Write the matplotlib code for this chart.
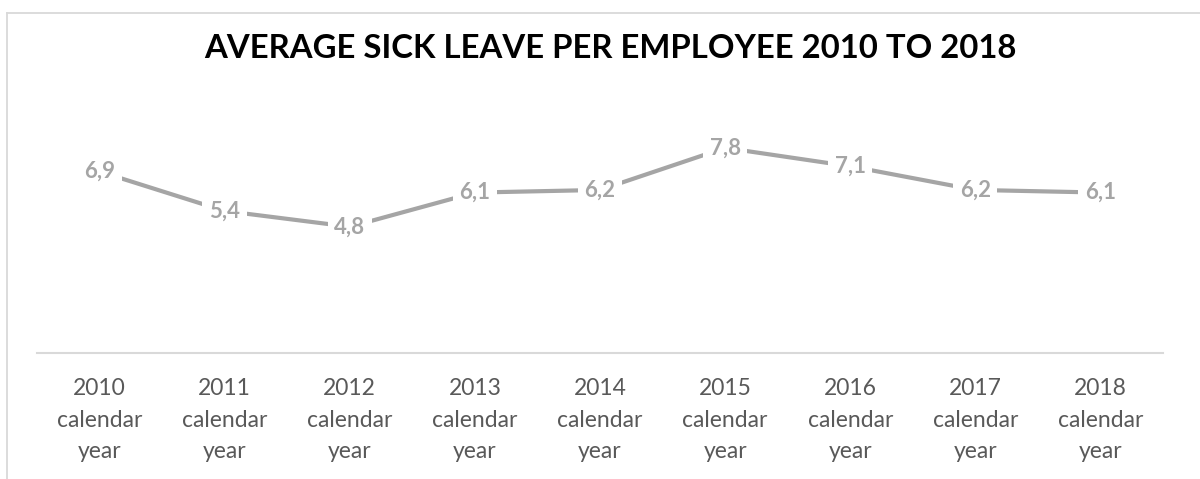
import matplotlib
matplotlib.use("Agg")
import matplotlib.pyplot as plt
from matplotlib.lines import Line2D

plt.rcParams["font.family"] = ["Lato", "DejaVu Sans"]

# ---- data ----
years = ["2010", "2011", "2012", "2013", "2014", "2015", "2016", "2017", "2018"]
sick_days = [6.9, 5.4, 4.8, 6.1, 6.2, 7.8, 7.1, 6.2, 6.1]
value_labels = ["6,9", "5,4", "4,8", "6,1", "6,2", "7,8", "7,1", "6,2", "6,1"]
tick_labels = [f"{y}\ncalendar\nyear" for y in years]

LINE = "#a5a5a5"
TICK = "#595959"
GRID = "#d9d9d9"

fig = plt.figure(figsize=(12, 4.79), dpi=100)
fig.patch.set_facecolor("white")

# chart frame (top + left edges)
fig.add_artist(Line2D([7 / 1200, 1.0], [1 - 13 / 479, 1 - 13 / 479],
                      transform=fig.transFigure, color=GRID, lw=1.3))
fig.add_artist(Line2D([7 / 1200, 7 / 1200], [0.0, 1 - 13 / 479],
                      transform=fig.transFigure, color=GRID, lw=1.3))

ax = fig.add_axes([37 / 1200, 126 / 479, 1126 / 1200, 263 / 479])
x = list(range(len(years)))
ax.plot(x, sick_days, color=LINE, lw=3.0, solid_capstyle="butt", zorder=2)

for xi, v, lab in zip(x, sick_days, value_labels):
    ax.text(xi, v, lab, ha="center", va="center", fontsize=16, weight="bold",
            color=LINE, zorder=3,
            bbox=dict(boxstyle="square,pad=0.3", fc="white", ec="none"))

ax.set_xlim(-0.5, len(years) - 0.5)
ax.set_ylim(0, 10)
ax.set_yticks([])
ax.set_xticks(x)
ax.set_xticklabels(tick_labels, fontsize=16.5, color=TICK, linespacing=1.63)
ax.tick_params(axis="x", length=0, pad=18)
for side in ("top", "right", "left"):
    ax.spines[side].set_visible(False)
ax.spines["bottom"].set_color(GRID)
ax.spines["bottom"].set_linewidth(1.5)

fig.text(610 / 1200, 1 - 48 / 479, "AVERAGE SICK LEAVE PER EMPLOYEE 2010 TO 2018",
         ha="center", va="center", fontsize=23.7, weight="bold", color="black")

fig.savefig("out.png", dpi=100, facecolor="white")
